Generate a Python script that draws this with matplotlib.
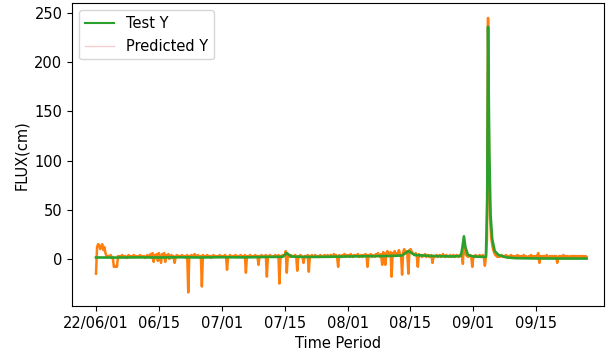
import numpy as np
import matplotlib
matplotlib.use("Agg")
import matplotlib.pyplot as plt
from matplotlib.lines import Line2D

# Tick positions (days since 2022-06-01) and their labels
tick_days = [0, 15, 30, 45, 60, 75, 90, 105]
tick_labels = ["22/06/01", "06/15", "07/01", "07/15", "08/01", "08/15", "09/01", "09/15"]

# Observed flux (Test Y): smooth series, sampled at irregular days
test_day = [0, 5, 10, 15, 20, 25, 30, 35, 40, 44.5, 45.5, 46.5, 50, 55, 60, 65,
            70, 73, 74.5, 76, 80, 85, 87, 87.4, 87.75, 88.1, 88.7, 90, 93,
            93.3, 93.5, 93.8, 94.1, 94.5, 95.1, 96, 98, 100, 105, 110, 117]
test_flux = [1.5, 1.4, 1.6, 1.5, 1.7, 1.5, 1.8, 1.6, 2.0, 2.2, 6.0, 2.5, 2.0, 2.2, 2.5, 2.8,
             3.0, 3.5, 8.0, 4.0, 3.0, 2.5, 3.0, 12.0, 23.0, 12.0, 4.0, 2.5, 2.0,
             60.0, 236.0, 110.0, 45.0, 20.0, 8.0, 4.0, 1.5, 0.8, 0.5, 0.4, 0.4]

# Predicted flux (Predicted Y): one value every 6 hours, 5 days per row
pred_flux = [
    -15, 12, 15, 14, 10, 13, 15, 9, 12, 6, 3, 2, 3, 2, 4, 1, 2, -8, -8, -7,        # days 0-4
    -8, 3, 2, 3, 2, 4, 3, 2, 3, 1, 2, 4, 3, 2, 3, 2, 4, 3, 2, 3,                   # days 5-9
    2, 3, 4, 2, 3, 2, 3, 1, 2, 4, 3, 2, 5, 1, 6, -3, 4, 2, 5, -2,                  # days 10-14
    6, 1, -4, 5, 3, 6, -3, 4, 2, 5, 0, 3, 4, 1, 3, -4, 2, 4, 3, 2,                 # days 15-19
    3, 2, 4, 3, 2, 3, 1, 4, -34, 3, 2, 4, 3, 2, 5, 3, 2, 4, 3, 2,                  # days 20-24
    3, -28, 4, 2, 3, 2, 4, 3, 2, 3, 1, 3, 4, 2, 3, 2, 3, 2, 4, 3,                  # days 25-29
    2, 3, 2, 4, 3, -11, 2, 3, 4, 2, 3, 2, 3, 4, 2, 3, 2, 3, 4, 2,                  # days 30-34
    3, 2, 4, -14, 3, 2, 3, 4, 2, 3, 2, 3, 4, 2, 3, -6, 3, 2, 4, 3,                 # days 35-39
    2, 3, 4, -18, 3, 2, 4, 3, 2, 3, 2, 4, 3, 2, 4, -25, 3, 2, 4, 3,                # days 40-44
    3, 8, -14, 4, 3, 2, 4, 3, 2, 3, 4, 2, -12, 3, 2, 4, 3, 2, -4, 3,               # days 45-49
    2, 3, 4, -13, 3, 2, 4, 3, 2, 4, 3, 2, 3, 2, 4, 3, 2, 3, 4, 2,                  # days 50-54
    3, 4, 2, 3, 4, 2, 3, 5, 3, 4, 2, -8, 4, 3, 2, 4, 3, 5, 2, 4,                   # days 55-59
    3, 4, 2, 5, 3, 2, 4, 3, 4, 3, 5, 2, 3, 4, 2, 4, 3, 5, 4, -8,                   # days 60-64
    4, 3, 5, 2, 4, 3, 2, 5, 3, 6, 4, 2, 5, -6, 7, 3, -6, 6, 8, 4,                  # days 65-69
    5, 7, -18, 6, 4, 8, 5, 3, 6, 9, 5, 4, -16, 7, 10, 6, 8, 5, -15, 9,             # days 70-74
    10, 8, 6, 5, 4, 6, 3, -8, 5, 3, 4, 2, 4, 3, 5, 2, 3, 4, 2, 3,                  # days 75-79
    4, -4, 3, 2, 3, 4, 2, 3, 4, 2, 3, 5, 3, 2, 4, 3, 2, 3, 4, 2,                   # days 80-84
    3, 4, 2, 3, 4, 3, 2, 4, 3, 5, -5, 18, 10, 4, 3, 2, 3, 4, 2, -8,                # days 85-89
    3, 2, 4, 3, 2, 3, 4, 2, 3, 4, 2, -7, 3, 20, 245, 90, 40, 22, 14, 9,            # days 90-94
    6, 4, 3, 2, 3, 2, 3, 4, 2, 3, 2, 4, 3, 2, 3, 2, 4, 2, 3, 2,                    # days 95-99
    3, 2, 4, 2, 3, 1, 3, 2, 4, 2, 3, 2, 1, 3, 2, 4, 2, 3, 1, 3,                    # days 100-104
    2, 4, 6, -4, 3, 2, 3, 1, 3, 2, 4, 2, 1, 3, 2, 3, 2, 3, 1, 3,                   # days 105-109
    -4, 2, 3, 1, 3, 2, 4, 2, 3, 1, 3, 2, 2, 3, 2, 3, 1, 3, 2, 3,                   # days 110-114
    2, 3, 1, 3, 2, 3, 2, 3, 2,                                                     # days 115-117
]
pred_day = np.arange(len(pred_flux)) * 0.25

plt.rcParams["font.family"] = "DejaVu Sans"
plt.rcParams["font.size"] = 10.5

fig = plt.figure(figsize=(6.06, 3.56), dpi=100)
ax = fig.add_axes([0.119, 0.140, 0.878, 0.851])

ax.plot(pred_day, pred_flux, color="#ff7f0e", lw=1.8, zorder=2)
ax.plot(test_day, test_flux, color="#2ca02c", lw=1.9, zorder=3)

ax.set_xlim(-5.7, 121.2)
ax.set_ylim(-48, 260)
ax.set_xticks(tick_days)
ax.set_xticklabels(tick_labels)
ax.set_yticks([0, 50, 100, 150, 200, 250])
ax.set_xlabel("Time Period")
ax.set_ylabel("FLUX(cm)")

handles = [Line2D([], [], color="#2ca02c", lw=1.5),
           Line2D([], [], color="#f7cfcf", lw=1.0)]
ax.legend(handles, ["Test Y", "Predicted Y"], loc="upper left")

fig.savefig("out.png", dpi=100)
